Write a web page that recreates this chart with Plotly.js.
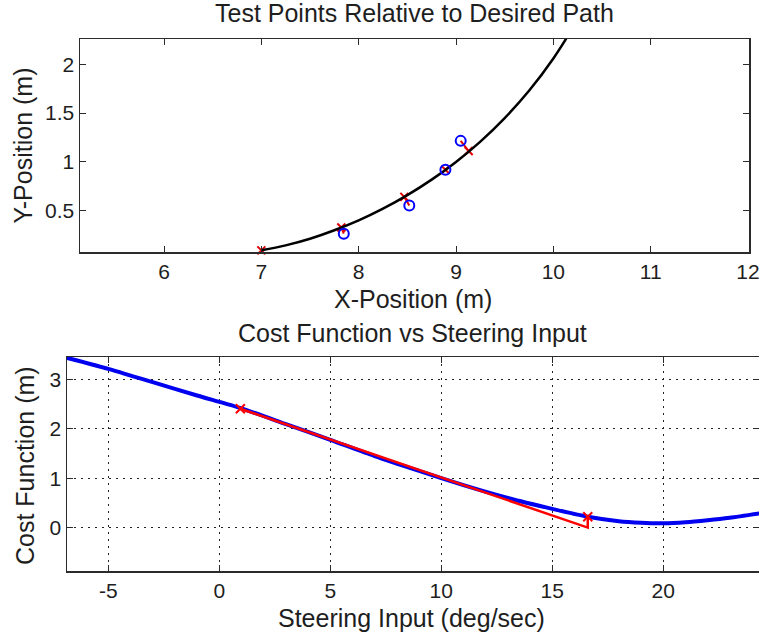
<!DOCTYPE html>
<html>
<head>
<meta charset="utf-8">
<script src="https://cdn.plot.ly/plotly-3.0.1.min.js"></script>
<style>
  html, body { margin: 0; padding: 0; overflow: hidden; background: #fff; }
  #chart { width: 762px; height: 638px; }
</style>
</head>
<body>
<div id="chart"></div>
<script>
// Desired path (m)
const pathX = [7.0, 7.25, 7.5, 7.75, 8.0, 8.25, 8.5, 8.75, 9.0, 9.25, 9.5, 9.75, 10.0, 10.2];
const pathY = [0.09, 0.141, 0.209, 0.296, 0.398, 0.518, 0.657, 0.816, 0.998, 1.207, 1.448, 1.728, 2.06, 2.376];

// Test points and their nearest points on the path (m)
const testX = [7.847, 8.52, 8.891, 9.048];
const testY = [0.261, 0.551, 0.917, 1.214];
const footX = [7.822, 8.469, 8.891, 9.13];
const footY = [0.325, 0.639, 0.917, 1.11];

// Cost function vs steering input
const steer = [-7, -5, -3, -1, 1, 3, 5, 7, 9, 11, 13, 15, 16.6, 18, 19, 20, 21, 22, 23, 24.5];
const cost  = [3.46, 3.22, 2.95, 2.68, 2.42, 2.1, 1.78, 1.45, 1.15, 0.86, 0.6, 0.38, 0.22, 0.13, 0.1, 0.09, 0.11, 0.15, 0.2, 0.3];

// Newton step: tangent from the current input down to zero, then back up to the curve
const stepX = [0.95, 16.6, 16.6];
const stepY = [2.41, 0.0, 0.22];

// Tick labels
const topXTicks = [6, 7, 8, 9, 10, 11, 12];
const topYTicks = [0.5, 1, 1.5, 2];
const botXTicks = [-5, 0, 5, 10, 15, 20];
const botXText  = ['-5', '0', '5', '10', '15', '20'];
const botYTicks = [0, 1, 2, 3];

const FONT = '"Liberation Sans", Arial, Helvetica, sans-serif';
const INK = '#1e1e1e';
const AXIS = '#2b2b2b';
const W = 762, H = 638;
const px = v => v / W;
const py = v => 1 - v / H;

// red connectors from each test point to the path
const segX = [], segY = [];
testX.forEach((x, i) => { segX.push(x, footX[i], null); segY.push(testY[i], footY[i], null); });

const traces = [
  { x: segX, y: segY, xaxis: 'x', yaxis: 'y', mode: 'lines',
    line: { color: '#e00000', width: 2 }, hoverinfo: 'skip' },
  { x: [pathX[0]].concat(footX), y: [pathY[0]].concat(footY), xaxis: 'x', yaxis: 'y', mode: 'markers',
    marker: { symbol: 'x-thin', size: 8, line: { color: '#e00000', width: 2 } }, cliponaxis: false },
  { x: pathX, y: pathY, xaxis: 'x', yaxis: 'y', mode: 'lines', line: { color: '#000', width: 2.5, shape: 'spline' } },
  { x: testX, y: testY, xaxis: 'x', yaxis: 'y', mode: 'markers',
    marker: { symbol: 'circle-open', size: 10, line: { color: '#0000ff', width: 2 }, color: '#0000ff' } },

  { x: steer, y: cost, xaxis: 'x2', yaxis: 'y2', mode: 'lines',
    line: { color: '#0000f0', width: 4, shape: 'spline', smoothing: 0.6 } },
  { x: stepX, y: stepY, xaxis: 'x2', yaxis: 'y2', mode: 'lines', line: { color: '#ff0000', width: 2.5 } },
  { x: [stepX[0], stepX[2]], y: [stepY[0], stepY[2]], xaxis: 'x2', yaxis: 'y2', mode: 'markers',
    marker: { symbol: 'x-thin', size: 9, line: { color: '#ff0000', width: 2 } } }
];

const axisBase = {
  ticks: 'inside', ticklen: 6, tickwidth: 1, tickcolor: AXIS,
  showline: true, linecolor: AXIS, linewidth: 1.5, mirror: 'ticks',
  zeroline: false, showgrid: false,
  tickfont: { family: FONT, size: 21, color: INK }
};
const gridOn = { showgrid: true, gridcolor: '#222', gridwidth: 1, griddash: '2px,5px' };

const ann = (text, x, y, angle) => ({
  text, x: px(x), y: py(y), xref: 'paper', yref: 'paper',
  xanchor: 'center', yanchor: 'middle', showarrow: false, textangle: angle || 0,
  font: { family: FONT, size: 25, color: INK }
});

const layout = {
  width: W, height: H,
  margin: { l: 0, r: 0, t: 0, b: 0 },
  paper_bgcolor: '#fff', plot_bgcolor: '#fff',
  showlegend: false,
  xaxis: Object.assign({}, axisBase, { domain: [px(80), px(749)], range: [5.137, 12.01], tickvals: topXTicks, anchor: 'y' }),
  yaxis: Object.assign({}, axisBase, { domain: [py(252), py(39)], range: [0.073, 2.26], tickvals: topYTicks, anchor: 'x' }),
  xaxis2: Object.assign({}, axisBase, gridOn, { domain: [px(67), px(760)], range: [-6.86, 24.36], tickvals: botXTicks, ticktext: botXText, anchor: 'y2' }),
  yaxis2: Object.assign({}, axisBase, gridOn, { domain: [py(571), py(357)], range: [-0.88, 3.46], tickvals: botYTicks, anchor: 'x2' }),
  annotations: [
    ann('Test Points Relative to Desired Path', 414, 13),
    ann('X-Position (m)', 413, 298.5),
    ann('Y-Position (m)', 22.6, 146, -90),
    ann('Cost Function vs Steering Input', 412, 333),
    ann('Steering Input (deg/sec)', 411.5, 618),
    ann('Cost Function (m)', 25, 466, -90)
  ]
};

Plotly.newPlot('chart', traces, layout, { staticPlot: true, displayModeBar: false });
</script>
</body>
</html>
